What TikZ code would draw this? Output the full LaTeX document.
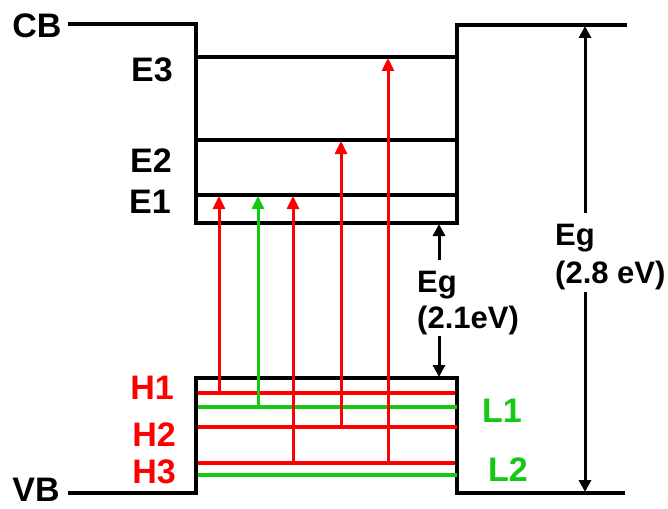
\documentclass[tikz,border=0pt]{standalone}
\usepackage{fontspec}
\setmainfont{Liberation Sans}
\usetikzlibrary{arrows.meta}
\definecolor{lgreen}{RGB}{20,200,20}
\definecolor{lred}{RGB}{255,0,0}
\tikzset{
  blk/.style={line width=4pt, black, line join=miter},
  lvl/.style={line width=3.2pt},
  arr/.style={line width=3pt, -{Triangle[width=12pt,length=13pt]}},
  garr/.style={line width=3pt, black, -{Triangle[width=12pt,length=12pt]}},
  lab/.style={font=\fontsize{34}{36}\selectfont\bfseries, anchor=base, inner sep=0pt},
  eglab/.style={font=\fontsize{31}{36}\selectfont\bfseries, anchor=base west, inner sep=0pt},
}
\begin{document}
\begin{tikzpicture}[x=1pt,y=-1pt]
\useasboundingbox (0,0) rectangle (668,508);
% conduction band well
\coordinate (cbL) at (68,24);
\coordinate (wTL) at (196,24);
\coordinate (wBL) at (196,223);
\coordinate (wBR) at (457,223);
\coordinate (wTR) at (457,25);
\coordinate (cbR) at (627,25);
\draw[blk] (cbL) -- (wTL) -- (wBL) -- (wBR) -- (wTR) -- (cbR);
\coordinate (e3L) at (196,57); \coordinate (e3R) at (457,57);
\coordinate (e2L) at (196,140); \coordinate (e2R) at (457,140);
\coordinate (e1L) at (196,195); \coordinate (e1R) at (457,195);
\draw[blk] (e3L) -- (e3R);
\draw[blk] (e2L) -- (e2R);
\draw[blk] (e1L) -- (e1R);
% valence band well
\coordinate (vbL) at (68,493);
\coordinate (vBL) at (196,493);
\coordinate (vTL) at (196,378);
\coordinate (vTR) at (457,378);
\coordinate (vBR) at (457,493);
\coordinate (vbR) at (625,493);
\draw[blk] (vbL) -- (vBL) -- (vTL) -- (vTR) -- (vBR) -- (vbR);
% hole levels
\coordinate (h1L) at (198,393); \coordinate (h1R) at (455,393);
\coordinate (l1L) at (198,407); \coordinate (l1R) at (457,407);
\coordinate (h2L) at (198,427); \coordinate (h2R) at (457,427);
\coordinate (h3L) at (198,463); \coordinate (h3R) at (455,463);
\coordinate (l2L) at (198,475); \coordinate (l2R) at (457,475);
\draw[lvl,lred] (h1L) -- (h1R);
\draw[lvl,lgreen] (l1L) -- (l1R);
\draw[lvl,lred] (h2L) -- (h2R);
\draw[lvl,lred] (h3L) -- (h3R);
\draw[lvl,lgreen] (l2L) -- (l2R);
% transitions
\coordinate (a1s) at (219,393); \coordinate (a1e) at (219,196);
\coordinate (a2s) at (258,407); \coordinate (a2e) at (258,196);
\coordinate (a3s) at (293,463); \coordinate (a3e) at (293,196);
\coordinate (a4s) at (341,427); \coordinate (a4e) at (341,141);
\coordinate (a5s) at (388,463); \coordinate (a5e) at (388,58);
\draw[arr,lred] (a1s) -- (a1e);
\draw[arr,lgreen] (a2s) -- (a2e);
\draw[arr,lred] (a3s) -- (a3e);
\draw[arr,lred] (a4s) -- (a4e);
\draw[arr,lred] (a5s) -- (a5e);
% labels
\node[lab] (cb) at (37,38) {CB};
\node[lab] (vb) at (36,501) {VB};
\node[lab] (e3) at (152,82) {E3};
\node[lab] (e2) at (151,172) {E2};
\node[lab] (e1) at (150,213) {E1};
\node[lab,lred] (h1) at (152,399) {H1};
\node[lab,lred] (h2) at (154,446) {H2};
\node[lab,lred] (h3) at (154,483) {H3};
\node[lab,lgreen] (l1) at (502,422) {L1};
\node[lab,lgreen] (l2) at (508,481) {L2};
% band gap 2.1 eV
\node[eglab] (g21a) at (417,292) {Eg};
\node[eglab] (g21b) at (417,328) {(2.1eV)};
\coordinate (g21top) at (439,260);
\coordinate (g21bot) at (439,336);
\coordinate (g21up) at (439,224);
\coordinate (g21dn) at (439,377);
\draw[garr] (g21top) -- (g21up);
\draw[garr] (g21bot) -- (g21dn);
% band gap 2.8 eV
\node[eglab] (g28a) at (555,245) {Eg};
\node[eglab] (g28b) at (555,283) {(2.8 eV)};
\coordinate (g28top) at (585,213);
\coordinate (g28bot) at (585,292);
\coordinate (g28up) at (585,26);
\coordinate (g28dn) at (585,492);
\draw[garr] (g28top) -- (g28up);
\draw[garr] (g28bot) -- (g28dn);
\end{tikzpicture}
\end{document}
